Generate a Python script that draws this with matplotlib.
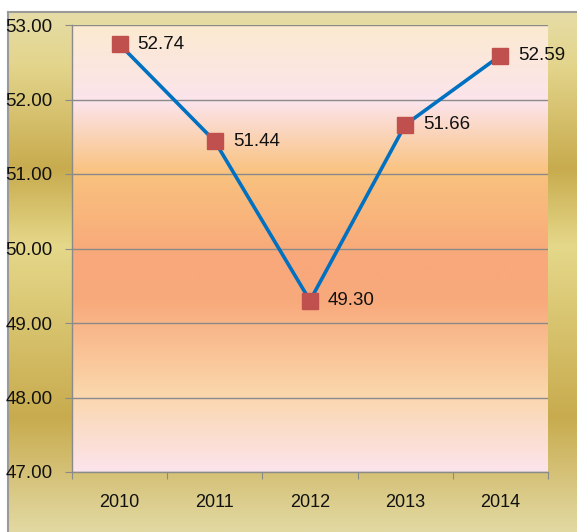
import numpy as np
import matplotlib
matplotlib.use('Agg')
import matplotlib.pyplot as plt
from matplotlib.colors import LinearSegmentedColormap

years = ['2010', '2011', '2012', '2013', '2014']
values = [52.74, 51.44, 49.30, 51.66, 52.59]
y_ticks = [47, 48, 49, 50, 51, 52, 53]

plt.rcParams['font.family'] = ['Liberation Sans', 'DejaVu Sans']

fig = plt.figure(figsize=(5.77, 5.32), dpi=100)
fig.patch.set_facecolor('white')

# outer gold background (chart area), starts at x=8, y=12 px
bg = fig.add_axes([8 / 577, 0, 1 - 8 / 577, 1 - 12 / 532])
gold = LinearSegmentedColormap.from_list('gold', [
    (0.00, '#e6dca6'), (0.10, '#e3d58c'), (0.30, '#c8ab4e'),
    (0.45, '#e5d88a'), (0.78, '#c8ab4e'), (1.00, '#e2d9a2')])
bg.imshow(np.linspace(0, 1, 256).reshape(-1, 1), aspect='auto', cmap=gold,
          extent=[0, 1, 0, 1], origin='upper')
bg.set_xlim(0, 1)
bg.set_ylim(0, 1)
bg.set_xticks([])
bg.set_yticks([])
for side in ['right', 'bottom']:
    bg.spines[side].set_visible(False)
for side in ['top', 'left']:
    bg.spines[side].set_color('#9a9a9a')
    bg.spines[side].set_linewidth(1.5)

ax = fig.add_axes([72 / 577, 1 - 472 / 532, (548 - 72) / 577, (472 - 25) / 532])
ax.set_facecolor('none')
inner = LinearSegmentedColormap.from_list('inner', [
    (0.00, '#fbead0'), (0.17, '#fce4ec'), (0.33, '#f9c27e'),
    (0.52, '#f8a87a'), (0.62, '#f8aa7c'), (0.82, '#fad6aa'), (1.00, '#fce4ec')])
ax.imshow(np.linspace(0, 1, 256).reshape(-1, 1), aspect='auto', cmap=inner,
          extent=[-0.5, 4.5, 47, 53], origin='upper', zorder=0)

x = np.arange(len(years))
ax.plot(x, values, color='#0070c0', linewidth=2.6, zorder=3)
ax.plot(x, values, linestyle='none', marker='s', markersize=12,
        color='#c0504d', zorder=4)
for xi, v in zip(x, values):
    ax.annotate(f'{v:.2f}', (xi, v), xytext=(13, 0), textcoords='offset points',
                va='center', ha='left', fontsize=13.5, color='#111111', zorder=5)

ax.set_xlim(-0.5, 4.5)
ax.set_ylim(47, 53)
ax.set_yticks(y_ticks)
ax.set_yticklabels([f'{t:.2f}' for t in y_ticks], fontsize=13.5, color='#111111')
ax.yaxis.grid(True, color='#8a8a8a', linewidth=1.0, zorder=1)
ax.set_axisbelow(False)

ax.set_xticks(np.arange(-0.5, 5, 1))
ax.set_xticklabels([])
ax.set_xticks(x, minor=True)
ax.set_xticklabels(years, minor=True, fontsize=13, color='#111111')
ax.tick_params(axis='x', which='major', length=5, color='#8a8a8a', direction='out')
ax.tick_params(axis='x', which='minor', length=0, pad=16)
ax.tick_params(axis='y', length=5, color='#8a8a8a', pad=9)

for side in ['top', 'right']:
    ax.spines[side].set_visible(False)
for side in ['left', 'bottom']:
    ax.spines[side].set_color('#8a8a8a')
    ax.spines[side].set_linewidth(1.0)

fig.savefig('out.png', dpi=100)
